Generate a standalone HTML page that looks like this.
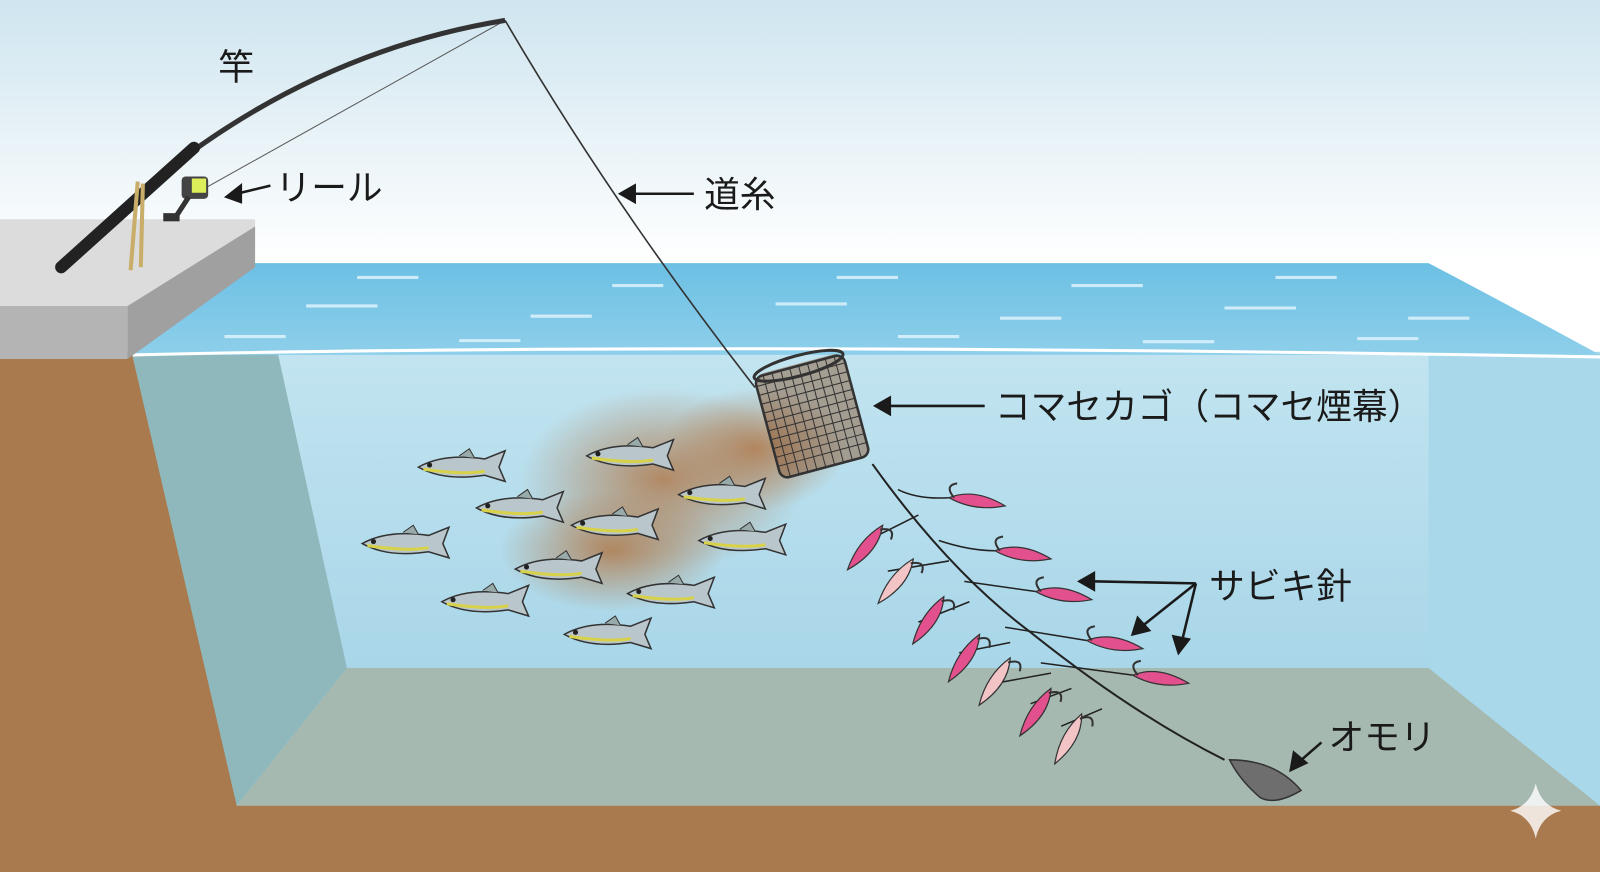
<!DOCTYPE html>
<html><head><meta charset="utf-8"><style>
html,body{margin:0;padding:0;background:#fff;}
svg{display:block}
text{font-family:"Liberation Sans","Noto Sans CJK JP",sans-serif;fill:#1a1a1a;font-size:35px}
</style></head><body>
<svg width="1600" height="872" viewBox="0 0 1568 855" preserveAspectRatio="none" xmlns="http://www.w3.org/2000/svg">
<defs>
<linearGradient id="sky" x1="0" y1="0" x2="0" y2="1"><stop offset="0" stop-color="#cfe5ef"/><stop offset="0.3" stop-color="#ffffff"/></linearGradient>
<linearGradient id="surf" x1="0" y1="0" x2="0" y2="1"><stop offset="0" stop-color="#6cc0e4"/><stop offset="1" stop-color="#8ecfea"/></linearGradient>
<linearGradient id="uw" x1="0" y1="0" x2="0" y2="1"><stop offset="0" stop-color="#c2e4f0"/><stop offset="1" stop-color="#9dd0e5"/></linearGradient>
<radialGradient id="cloud"><stop offset="0" stop-color="#b07a4c" stop-opacity="0.85"/><stop offset="1" stop-color="#b07a4c" stop-opacity="0"/></radialGradient>
<g id="fish"><path d="M-45,0 Q-20,-14 20,-8 L40,-16 L34,0 L40,14 L20,8 Q-20,14 -45,0Z" fill="#b9c6cc" stroke="#333" stroke-width="1.5"/><path d="M-40,2 Q0,8 20,4" stroke="#d8d24a" stroke-width="3" fill="none"/><circle cx="-34" cy="-2" r="2.5" fill="#222"/><path d="M-5,-11 L5,-18 L10,-9" fill="#9aa" stroke="#333"/></g>
<g id="lure"><path d="M0,0 Q25,-10 55,8 Q25,14 0,0Z" fill="#e2508d" stroke="#333" stroke-width="1.2"/><path d="M5,0 Q-5,-12 8,-14" stroke="#333" stroke-width="2" fill="none"/></g>
<g id="lure2"><path d="M0,0 Q25,-10 55,8 Q25,14 0,0Z" fill="#f2c4c6" stroke="#333" stroke-width="1.2"/><path d="M5,0 Q-5,-12 8,-14" stroke="#333" stroke-width="2" fill="none"/></g>
</defs>
<rect width="1568" height="855" fill="url(#sky)"/>
<rect x="130" y="345" width="1438" height="450" fill="url(#uw)"/>
<polygon points="130,345 272,345 340,655 232,790 130,790" fill="#8fb8bd"/>
<polygon points="1400,345 1568,345 1568,790 1400,655" fill="#a9d8ea"/>
<polygon points="340,655 1400,655 1568,790 232,790" fill="#a6b9b0"/>
<path d="M250,258 L1400,258 Q1480,300 1568,348 L130,348 Z" fill="url(#surf)"/>
<g stroke="#e4f5fc" stroke-width="3" fill="none" opacity="0.8">
<path d="M350,272 h60 M600,280 h50 M820,272 h60 M1050,280 h70 M1250,272 h60 M300,300 h70 M520,310 h60 M760,298 h70 M980,312 h60 M1200,302 h70 M1380,312 h60 M220,330 h60 M450,334 h60 M880,330 h60 M1120,335 h70 M1330,332 h60"/>
</g>
<path d="M130,348 Q700,335 1568,350" stroke="#fff" stroke-width="3" fill="none"/>
<polygon points="0,345 130,345 130,350 232,790 1568,790 1568,855 0,855" fill="#a87a4e"/>
<polygon points="0,215 250,215 250,222 125,300 0,300" fill="#dcdcdc"/>
<polygon points="0,300 125,300 125,352 0,352" fill="#b4b4b4"/>
<polygon points="250,222 250,262 125,352 125,300" fill="#a0a0a0"/>
<ellipse cx="650" cy="470" rx="140" ry="90" fill="url(#cloud)"/>
<ellipse cx="740" cy="440" rx="90" ry="60" fill="url(#cloud)"/>
<ellipse cx="600" cy="540" rx="110" ry="60" fill="url(#cloud)"/>
<use href="#fish" transform="translate(455,458)"/>
<use href="#fish" transform="translate(620,447)"/>
<use href="#fish" transform="translate(512,498)"/>
<use href="#fish" transform="translate(710,485)"/>
<use href="#fish" transform="translate(605,515)"/>
<use href="#fish" transform="translate(400,533)"/>
<use href="#fish" transform="translate(730,530)"/>
<use href="#fish" transform="translate(550,558)"/>
<use href="#fish" transform="translate(660,582)"/>
<use href="#fish" transform="translate(478,590)"/>
<use href="#fish" transform="translate(598,622)"/>
<path d="M495,20 Q600,200 740,380" stroke="#333" stroke-width="1.6" fill="none"/>
<path d="M495,20 L200,185" stroke="#555" stroke-width="1" fill="none"/>
<g transform="rotate(-15 795 405)">
<rect x="750" y="355" width="90" height="105" rx="10" fill="#8a5a36" opacity="0.5"/>
<ellipse cx="795" cy="357" rx="45" ry="10" fill="none" stroke="#333" stroke-width="3"/>
<rect x="750" y="357" width="90" height="103" rx="8" fill="none" stroke="#333" stroke-width="2.5"/>
<path d="M759,357v103M768,357v103M777,357v103M786,357v103M795,357v103M804,357v103M813,357v103M822,357v103M831,357v103M750,366h90M750,375h90M750,384h90M750,393h90M750,402h90M750,411h90M750,420h90M750,429h90M750,438h90M750,447h90" stroke="#333" stroke-width="1"/>
</g>
<path d="M855,455 Q930,560 1010,620 Q1110,700 1200,745" stroke="#222" stroke-width="2" fill="none"/>
<g stroke="#222" stroke-width="1.5" fill="none">
<path d="M880,480 Q900,490 930,488 M900,505 L850,530 M920,530 Q950,540 975,540 M930,550 L870,560 M945,570 L1015,580 M950,590 L900,610 M985,615 L1065,628 M990,630 L940,640 M1020,650 L1110,662 M1030,660 L975,670 M1050,675 L1010,690 M1080,695 L1040,712"/>
</g>
<use href="#lure" transform="translate(930,488)"/>
<use href="#lure" transform="translate(975,540)"/>
<use href="#lure" transform="translate(1015,580)"/>
<use href="#lure" transform="translate(1065,628)"/>
<use href="#lure" transform="translate(1110,662)"/>
<use href="#lure" transform="translate(865,515) rotate(120)"/>
<use href="#lure2" transform="translate(895,548) rotate(120)"/>
<use href="#lure" transform="translate(925,585) rotate(115)"/>
<use href="#lure" transform="translate(960,622) rotate(115)"/>
<use href="#lure2" transform="translate(990,645) rotate(115)"/>
<use href="#lure" transform="translate(1030,675) rotate(115)"/>
<use href="#lure2" transform="translate(1060,700) rotate(110)"/>
<path d="M1205,745 Q1250,745 1275,775 Q1250,790 1235,782 Q1215,765 1205,745Z" fill="#6e6e6e" stroke="#333" stroke-width="1.5"/>
<path d="M60,262 Q250,60 495,20" stroke="#333" stroke-width="5" fill="none"/>
<path d="M60,262 L190,145" stroke="#222" stroke-width="12" stroke-linecap="round"/>
<path d="M135,178 L128,265 M140,180 L138,262" stroke="#c9ae6a" stroke-width="4"/>
<g transform="translate(190,185)"><rect x="-12" y="-12" width="26" height="22" rx="4" fill="#444"/><rect x="-2" y="-10" width="14" height="14" fill="#dcef5a"/><path d="M-5,8 L-18,28" stroke="#333" stroke-width="5"/><rect x="-30" y="24" width="16" height="8" fill="#333"/></g>
<g stroke="#1a1a1a" stroke-width="2.5" fill="#1a1a1a">
<path d="M265,182 L232,190" fill="none"/><path d="M222,193 L236,182 L236,198Z"/>
<path d="M680,190 L620,190" fill="none"/><path d="M608,190 L622,182 L622,198Z"/>
<path d="M965,398 L870,398" fill="none"/><path d="M858,398 L872,390 L872,406Z"/>
<path d="M1172,572 L1070,570" fill="none"/><path d="M1058,570 L1072,562 L1072,578Z"/>
<path d="M1172,572 L1118,615" fill="none"/><path d="M1110,622 L1115,606 L1126,618Z"/>
<path d="M1172,572 L1158,630" fill="none"/><path d="M1155,640 L1150,624 L1165,627Z"/>
<path d="M1295,728 L1272,748" fill="none"/><path d="M1265,755 L1268,738 L1280,748Z"/>
</g>
<text x="214" y="78">竿</text>
<text x="270" y="196">リール</text>
<text x="690" y="203">道糸</text>
<text x="975" y="411">コマセカゴ（コマセ煙幕）</text>
<text x="1185" y="587">サビキ針</text>
<text x="1302" y="735">オモリ</text>
<path d="M1505,768 Q1510,790 1530,795 Q1510,800 1505,822 Q1500,800 1480,795 Q1500,790 1505,768Z" fill="#fff" opacity="0.8"/>
</svg>
</body></html>
